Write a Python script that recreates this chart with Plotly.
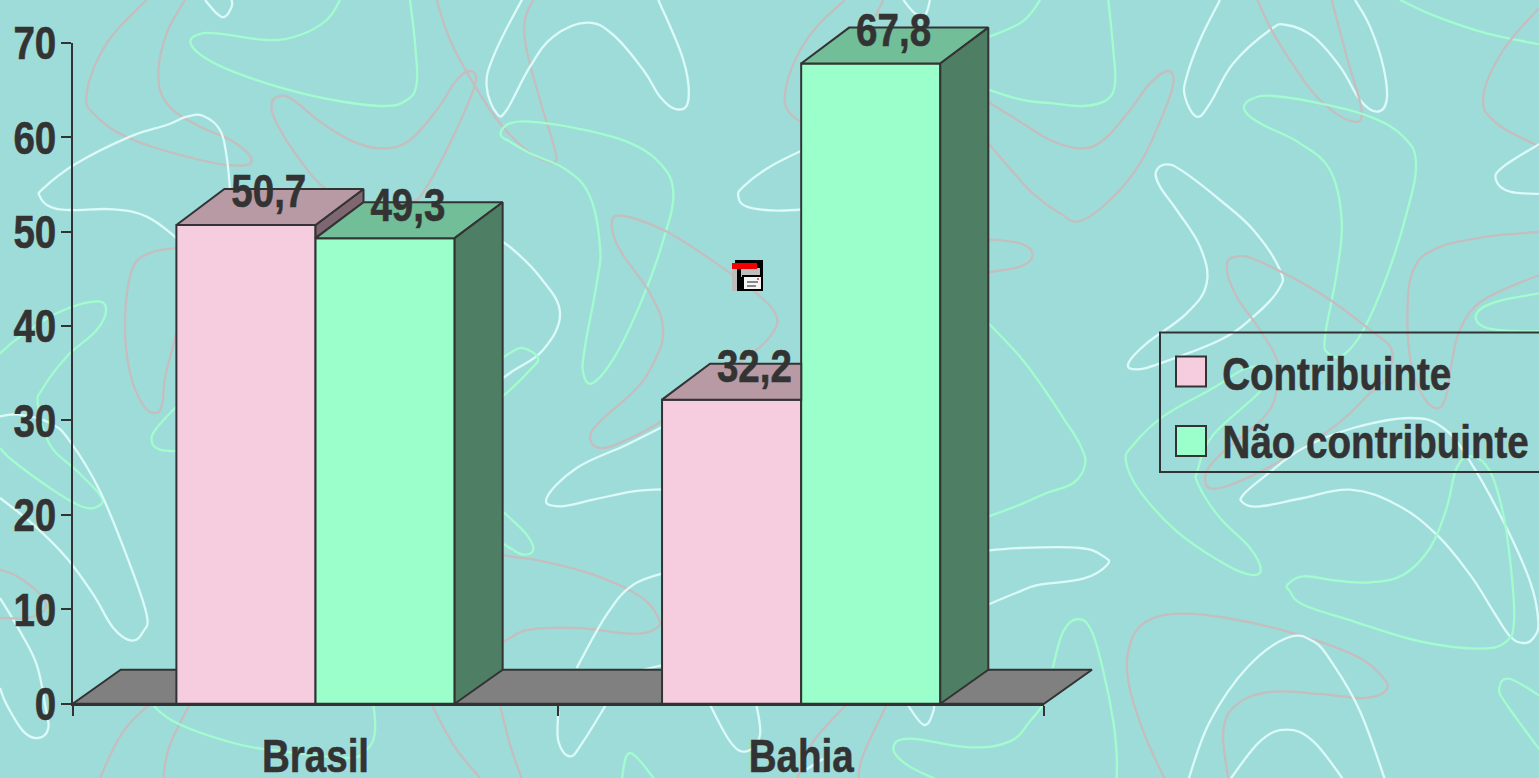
import plotly.graph_objects as go

# ---------- data ----------
categories = ["Brasil", "Bahia"]
contribuinte = [50.7, 32.2]
nao_contribuinte = [49.3, 67.8]
series_names = ["Contribuinte", "Não contribuinte"]
y_ticks = [0, 10, 20, 30, 40, 50, 60, 70]

# ---------- page geometry / style ----------
W, H = 1539, 778
L, R, T, B = 72.7, 495, 42.7, 74.3
PW, PH = W - L - R, H - T - B
CAT, UNIT = PW / 2, PH / 70
BG = "#9EDCDA"
INK = "#333333"
PINK, PINK_TOP, PINK_SIDE = "#F6CCDF", "#B89AA5", "#7E6770"
GREEN, GREEN_TOP, GREEN_SIDE = "#9BFFCC", "#72BE98", "#4E7E64"
FLOOR = "#808080"
FONT = dict(family="Liberation Sans, Arial", size=47, color=INK, weight=700)
BARGAP = 0.427
BAR_W = (1 - BARGAP) / 2
DX, DY, DY_FLOOR = 0.0988, 3.8, 3.6


def px(x, y):
    return x / W, (H - y) / H


def z(ox, oy, pts):
    return [(ox + a / 3, oy + b / 3) for a, b in pts]


def smooth(pts, closed=False, k=0.19):
    n = len(pts)
    P = [px(*p) for p in pts]
    def g(i):
        return P[i % n] if closed else P[max(0, min(n - 1, i))]
    d = f"M{P[0][0]:.5f},{P[0][1]:.5f}"
    for i in range(n if closed else n - 1):
        p0, p1, p2, p3 = g(i - 1), g(i), g(i + 1), g(i + 2)
        c1 = (p1[0] + (p2[0] - p0[0]) * k, p1[1] + (p2[1] - p0[1]) * k)
        c2 = (p2[0] - (p3[0] - p1[0]) * k, p2[1] - (p3[1] - p1[1]) * k)
        d += f" C{c1[0]:.5f},{c1[1]:.5f} {c2[0]:.5f},{c2[1]:.5f} {p2[0]:.5f},{p2[1]:.5f}"
    return d + (" Z" if closed else "")


WHITE, MINT, ROSE = "#DCFAF8", "#A2FCCE", "#C4BEBE"
Z1, Z2, Z3, Z4, Z5, Z6 = (0, 0), (0, 388), (510, 0), (510, 388), (1020, 0), (1020, 388)
# background squiggles: (colour, zoom frame, points, closed)
squiggles = [
    (ROSE, Z1, [(440,0),(320,130),(260,280),(290,350),(400,420),(600,480),(710,497),(755,480),(700,425),(590,375),(500,310),(475,220),(500,100),(555,0)], False),
    (MINT, Z1, [(1020,0),(980,60),(900,105),(800,120),(650,100),(590,105),(572,130),(610,170),(700,215),(850,265),(1000,300),(1150,318),(1220,300),(1250,250),(1245,130),(1230,0)], False),
    (ROSE, Z1, [(1310,0),(1350,120),(1420,250),(1500,370),(1585,455),(1645,485),(1665,486),(1665,450),(1620,300),(1580,150),(1575,60),(1600,0)], False),
    (ROSE, Z1, [(815,310),(840,288),(880,300),(960,365),(1060,425),(1150,445),(1230,420),(1310,330),(1370,240),(1410,213),(1428,240),(1400,320),(1340,450),(1280,560),(1230,610),(1100,640),(980,570),(900,480),(830,370)], True),
    (WHITE, Z1, [(690,570),(680,470),(660,390),(610,348),(560,350),(500,375),(390,410),(230,490),(130,565),(120,590),(150,620),(210,630),(340,628),(440,650),(530,715),(570,760)], False),
    (WHITE, Z1, [(1470,705),(1530,741),(1620,831),(1680,939),(1629,1050),(1530,1119),(1440,1185)], False),
    (MINT, Z1, [(0,1060),(60,1010),(170,940),(280,905),(318,925),(290,990),(200,1070),(129,1164),(114,1215),(150,1335),(231,1413),(300,1485),(300,1515),(249,1521),(150,1464),(39,1383),(0,1344)], False),
    (ROSE, Z1, [(531,744),(450,759),(396,810),(375,969),(390,1119),(429,1215),(465,1239),(486,1215),(495,1134),(516,1050),(540,960)], False),
    (WHITE, Z1, [(615,0),(650,40),(675,50),(695,20),(695,0)], False),
    (MINT, Z2, [(535,50),(470,120),(455,160),(480,185),(535,190)], False),
    (MINT, Z1, [(1500,1080),(1530,1059),(1569,1044),(1614,1074),(1590,1110),(1530,1170),(1500,1194)], False),
    (MINT, Z4, [(-45,350),(0,390),(50,440),(70,485),(40,500),(0,480),(-40,455)], False),
    (WHITE, Z2, [(0,85),(60,80),(150,105),(210,160),(300,310),(390,530),(440,680),(430,730),(395,758),(340,720),(280,620),(200,510),(100,410),(0,330)], False),
    (WHITE, Z2, [(0,630),(60,730),(110,830),(135,950),(145,1020),(115,1050),(70,1030),(20,950),(0,900)], False),
    (ROSE, Z2, [(0,545),(60,570),(130,630),(130,670),(80,690),(0,690)], False),
    (ROSE, Z2, [(470,930),(370,1030),(300,1170)], False),
    (ROSE, Z2, [(580,930),(510,1070),(490,1170)], False),
    (MINT, Z2, [(440,930),(520,1000),(700,1065),(850,1090),(1040,1110),(1100,1085),(1125,1030),(1118,930)], False),
    (ROSE, Z2, [(1285,930),(1360,1070),(1440,1170)], False),
    (ROSE, Z2, [(1495,930),(1530,1070),(1565,1170)], False),
    (ROSE, Z4, [(-60,790),(0,750),(60,725),(200,720),(370,737),(440,720),(445,690),(390,625),(250,560),(100,520),(0,505),(-60,490)], False),
    (WHITE, Z3, [(60,-30),(30,10),(-50,170),(-70,260),(-40,340),(-10,330),(60,200),(130,110),(230,68),(310,105),(400,210),(450,290),(500,328),(535,300),(520,180),(445,0)], False),
    (MINT, Z3, [(0,370),(60,365),(200,385),(350,425),(450,490),(490,580),(460,720),(400,890),(320,1060),(250,1148),(220,1120),(225,1040),(260,850),(270,740),(240,590),(170,510),(60,460),(0,425),(-25,410),(-25,390)], True),
    (ROSE, Z3, [(720,1065),(780,1010),(800,950),(740,880),(640,805),(560,750),(460,690),(340,648),(305,670),(330,750),(420,880),(460,990),(430,1090),(375,1170),(270,1264),(240,1314),(270,1344),(340,1324),(460,1260),(600,1150)], True),
    (WHITE, Z3, [(900,440),(780,500),(700,560),(685,590),(710,620),(800,632),(900,626)], False),
    (ROSE, Z3, [(1005,0),(920,80),(860,170),(825,280),(840,340),(900,380)], False),
    (ROSE, Z3, [(1120,0),(1095,50)], False),
    (WHITE, Z3, [(1180,0),(1215,40),(1245,45),(1260,0)], False),
    (MINT, Z5, [(60,0),(40,30),(0,70),(-96,112)], False),
    (MINT, Z5, [(-120,260),(0,298),(100,310),(190,318),(260,300),(285,250),(280,150),(265,0)], False),
    (ROSE, Z5, [(-120,290),(0,365),(90,420),(180,445),(250,420),(330,330),(390,250),(445,213),(460,250),(430,340),(360,490),(270,600),(180,663),(120,640),(50,590),(0,540),(-120,400)], False),
    (ROSE, Z5, [(-120,716),(0,730),(38,765),(0,800),(-120,820)], False),
    (WHITE, Z5, [(600,0),(540,120),(500,230),(495,290),(530,350),(570,310),(640,190),(750,90),(800,75),(880,110),(960,200),(1020,300),(1070,335),(1100,300),(1090,200),(1050,80),(1005,0)], False),
    (ROSE, Z5, [(712,0),(760,100),(830,210),(900,300),(990,362),(1025,335),(980,170),(935,0)], False),
    (MINT, Z5, [(1140,0),(1250,50),(1400,100),(1570,135)], False),
    (ROSE, Z5, [(1570,10),(1450,150),(1390,290),(1430,370),(1570,445)], False),
    (WHITE, Z5, [(1570,425),(1450,500),(1428,540),(1470,575),(1570,582)], False),
    (MINT, Z5, [(672,320),(700,295),(760,288),(900,310),(1050,350),(1150,410),(1188,490),(1160,640),(1100,830),(1030,990),(970,1065),(925,1060),(915,1010),(950,820),(965,660),(930,510),(840,430),(740,380),(690,350)], True),
    (WHITE, Z5, [(408,515),(440,493),(490,515),(600,600),(700,690),(780,810),(775,870),(700,950),(600,1020),(420,1090),(350,1108),(325,1090),(380,1030),(500,940),(560,850),(540,740),(470,630),(420,560)], True),
    (ROSE, Z5, [(620,800),(650,770),(720,785),(900,880),(1050,990),(1115,1050),(1100,1130),(1045,1184),(950,1274),(780,1384),(600,1464),(555,1434),(600,1364),(730,1254),(770,1174),(775,1090),(720,990),(650,890)], True),
    (ROSE, Z5, [(1570,695),(1400,710),(1250,745),(1180,810),(1162,950),(1175,1100),(1210,1190),(1250,1225),(1278,1190),(1295,1090),(1320,990),(1390,900),(1570,820)], False),
    (MINT, Z5, [(1570,878),(1430,905),(1370,940),(1390,980),(1480,993),(1570,993)], False),
    (MINT, Z6, [(580,0),(430,85),(340,170),(318,220),(360,310),(470,430),(600,520),(680,558),(722,548),(690,480),(600,390),(535,290),(535,240),(580,140),(720,10),(735,-50),(680,-60)], True),
    (MINT, Z6, [(-120,-220),(0,-94),(70,0),(130,90),(180,170),(195,230),(160,285),(80,315),(0,350),(-120,395)], False),
    (WHITE, Z6, [(-120,490),(0,480),(180,480),(250,505),(262,530),(190,572),(60,590),(0,610),(-120,660)], False),
    (WHITE, Z6, [(670,320),(740,260),(850,180),(1000,120),(1170,90),(1270,120),(1350,220),(1450,400),(1530,580),(1555,700),(1540,750),(1510,765),(1470,745),(1420,670),(1350,560),(1250,440),(1130,350),(990,305),(850,330),(720,355),(670,345)], True),
    (MINT, Z6, [(803,590),(850,565),(950,578),(1050,583),(1150,560),(1230,480),(1280,360),(1310,240),(1355,205),(1410,250),(1450,380),(1475,560),(1482,700),(1460,760),(1380,782),(1200,760),(1000,700),(850,650),(810,610)], True),
    (MINT, Z6, [(98,840),(130,730),(175,693),(215,730),(250,850),(280,1000),(290,1100),(290,1175)], False),
    (MINT, Z4, [(1600,950),(1560,1000),(1500,1060),(1380,1078),(1200,1052),(1150,1080),(1190,1130),(1280,1175)], False),
    (ROSE, Z6, [(435,1175),(370,1030),(325,880),(330,770),(380,700),(480,677),(620,690),(800,730),(1000,800),(1090,870),(1095,910),(1030,930),(900,918),(750,912),(650,950),(610,1030),(625,1175)], False),
    (WHITE, Z6, [(505,1175),(570,1000),(680,840),(800,750),(880,760),(940,830),(1020,970),(1095,1175)], False),
    (WHITE, Z6, [(630,1175),(720,1060),(800,1025),(880,1060),(970,1175)], False),
    (MINT, Z6, [(1570,1100),(1460,950),(1438,900),(1470,873),(1570,930)], False),
    (WHITE, Z4, [(480,105),(350,170),(200,240),(110,330),(150,355),(250,335),(370,310),(480,303)], False),
    (WHITE, Z4, [(480,550),(370,590),(290,680),(200,840)], False),
    (WHITE, Z4, [(300,930),(220,1060),(180,1105),(145,1060),(145,970)], False),
    (WHITE, Z4, [(735,930),(750,1040),(710,1090),(660,1060),(590,930)], False),
    (WHITE, Z4, [(400,845),(480,826)], False),
    (ROSE, Z4, [(1140,930),(1060,1100),(1045,1175)], False),
    (ROSE, Z4, [(1030,930),(910,1060),(860,1175)], False),
    (WHITE, Z4, [(1180,930),(1240,1010),(1270,970),(1270,930)], False),
    (MINT, Z4, [(335,1175),(360,1095),(435,1175)], False),
    (WHITE, Z4, [(880,1150),(940,1112)], False),
]

shapes = []
for colour, (ox, oy), pts, closed in squiggles:
    shapes.append(dict(type="path", xref="paper", yref="paper", layer="below",
                       path=smooth(z(ox, oy, pts), closed),
                       line=dict(color=colour, width=2.3), fillcolor="rgba(0,0,0,0)"))


def box(x0, y0, x1, y1, fill, line=None, width=1, layer="above"):
    a, b = px(x0, y0), px(x1, y1)
    shapes.append(dict(type="rect", xref="paper", yref="paper", layer=layer,
                       x0=a[0], y0=a[1], x1=b[0], y1=b[1], fillcolor=fill,
                       line=dict(color=line or "rgba(0,0,0,0)", width=width if line else 0)))


# small embedded-object icon
box(732, 263, 738, 291, "#BDBDBD")
box(737, 260, 763, 291, "#000000")
box(741, 268, 760, 277, "#BDBDBD")
box(735, 260, 757, 263, "#000000")
box(732, 263, 757, 269, "#F00000")
box(742, 275, 763, 291, "#000000")
box(744, 277, 761, 289, "#F4F4F4")
box(747, 281, 758, 283, "#888888")
box(747, 285, 756, 287, "#888888")
box(757, 278, 759, 280, "#F06060")

# legend box and swatches
box(1160, 332.5, 1560, 472, "rgba(0,0,0,0)", INK, 2, layer="below")
box(1176, 356.5, 1206, 386.5, PINK, INK, 2)
box(1176, 426, 1206, 456, GREEN, INK, 2)

annotations = []
for name, xc, yc in zip(series_names, (1336.5, 1375), (373, 442)):
    xa, ya = px(xc, yc)
    annotations.append(dict(xref="paper", yref="paper", x=xa, y=ya, text=name, showarrow=False,
                            xanchor="center", yanchor="middle", font=FONT))

fig = go.Figure()


def poly(xs, ys, fill, axes=("x3", "y3")):
    fig.add_trace(go.Scatter(x=xs + xs[:1], y=ys + ys[:1], mode="lines", fill="toself", fillcolor=fill,
                             line=dict(color=INK, width=2), showlegend=False,
                             hoverinfo="skip", xaxis=axes[0], yaxis=axes[1]))


xpos = list(range(len(categories)))

# invisible anchor so the visible axes are drawn
fig.add_trace(go.Scatter(x=xpos, y=contribuinte, mode="markers", marker=dict(opacity=0), showlegend=False,
                         hoverinfo="skip", xaxis="x", yaxis="y"))

# floor, on its own page-wide axes beneath the bars
poly([-0.5, 1.5, 1.5 + DX, -0.5 + DX], [0, 0, DY_FLOOR, DY_FLOOR], FLOOR, ("x2", "y2"))

for name, vals, col in ((series_names[0], contribuinte, PINK), (series_names[1], nao_contribuinte, GREEN)):
    fig.add_trace(go.Bar(x=xpos, y=vals, name=name, marker=dict(color=col, line=dict(color=INK, width=2)),
                         xaxis="x3", yaxis="y3", showlegend=False))

for i in xpos:
    a, b = contribuinte[i], nao_contribuinte[i]
    x0, x1, x2 = i - BAR_W, i, i + BAR_W
    # first series: top face clipped by a taller neighbour, side only where it stands above it
    if a > b:
        poly([x1, x1 + DX, x1 + DX, x1], [a, a + DY, b + DY, b], PINK_SIDE)
        poly([x0, x1, x1 + DX, x0 + DX], [a, a, a + DY, a + DY], PINK_TOP)
    else:
        poly([x0, x1, x1, x0 + DX], [a, a, a + DY, a + DY], PINK_TOP)
    # second series
    poly([x1, x2, x2 + DX, x1 + DX], [b, b, b + DY, b + DY], GREEN_TOP)
    poly([x2, x2 + DX, x2 + DX, x2], [b, b + DY, DY_FLOOR, 0], GREEN_SIDE)

lab_x, lab_y, lab_t = [], [], []
for i in xpos:
    for off, v in ((-BAR_W / 2, contribuinte[i]), (BAR_W / 2, nao_contribuinte[i])):
        lab_x.append(i + off + 0.047)
        lab_y.append(v + 3.1)
        lab_t.append(f"{v:.1f}".replace(".", ","))
fig.add_trace(go.Scatter(x=lab_x, y=lab_y, text=lab_t, mode="text", textposition="middle center",
                         textfont=FONT, showlegend=False, hoverinfo="skip", xaxis="x3", yaxis="y3"))

full_x = [-0.5 - L / CAT, -0.5 + (W - L) / CAT]
full_y = [-B / UNIT, (H - B) / UNIT]
hidden = dict(visible=False, domain=[0, 1], fixedrange=True, automargin=False)
# visible tick marks are minor ticks, so the labels can sit closer than the marks are long
y_marks = [v + 1e-6 if v < max(y_ticks) else v - 1e-6 for v in y_ticks]

fig.update_layout(
    width=W, height=H, autosize=False,
    margin=dict(l=0, r=0, t=0, b=0, pad=0),
    paper_bgcolor=BG, plot_bgcolor="rgba(0,0,0,0)",
    barmode="group", bargap=BARGAP, bargroupgap=0,
    showlegend=False, shapes=shapes, annotations=annotations,
    xaxis=dict(domain=[L / W, (W - R) / W], range=[-0.5, 1.5], anchor="y", automargin=False,
               tickvals=xpos, ticktext=categories, ticks="outside", ticklen=10, tickcolor="rgba(0,0,0,0)",
               minor=dict(tickvals=[-0.5, 0.5, 1.5], ticks="outside", ticklen=10, tickwidth=2, tickcolor=INK,
                          showgrid=False),
               showline=True, linecolor=INK, linewidth=2, showgrid=False, zeroline=False,
               tickfont=FONT, fixedrange=True),
    yaxis=dict(domain=[B / H, (H - T) / H], range=[0, 70], anchor="x", automargin=False, tickvals=y_ticks,
               ticks="outside", ticklen=5, tickwidth=2, tickcolor="rgba(0,0,0,0)",
               minor=dict(tickvals=y_marks, ticks="outside", ticklen=10, tickwidth=2, tickcolor=INK, showgrid=False),
               showline=True, linecolor=INK, linewidth=2,
               showgrid=False, zeroline=False, tickfont=FONT, fixedrange=True),
    xaxis2=dict(range=full_x, anchor="y2", **hidden),
    yaxis2=dict(range=full_y, anchor="x2", **hidden),
    xaxis3=dict(range=full_x, anchor="y3", **hidden),
    yaxis3=dict(range=full_y, anchor="x3", **hidden),
)

# page without a margin; the reference's type is a horizontally condensed, heavy Arial Bold
post = """
document.body.style.margin = '0';
document.body.style.overflow = 'hidden';
var gd = document.getElementById('{plot_id}');
function squeeze() {
  gd.querySelectorAll('svg text').forEach(function (t) {
    if (t.hasAttribute('textLength') || !t.textContent) return;
    t.setAttribute('textLength', t.getComputedTextLength() * 0.82);
    t.setAttribute('lengthAdjust', 'spacingAndGlyphs');
    t.style.stroke = '#333333';
    t.style.strokeWidth = '0.6px';
  });
}
gd.on('plotly_afterplot', squeeze);
squeeze();
setTimeout(squeeze, 50);
"""
fig.write_html("out.html", config=dict(displayModeBar=False), post_script=post)
